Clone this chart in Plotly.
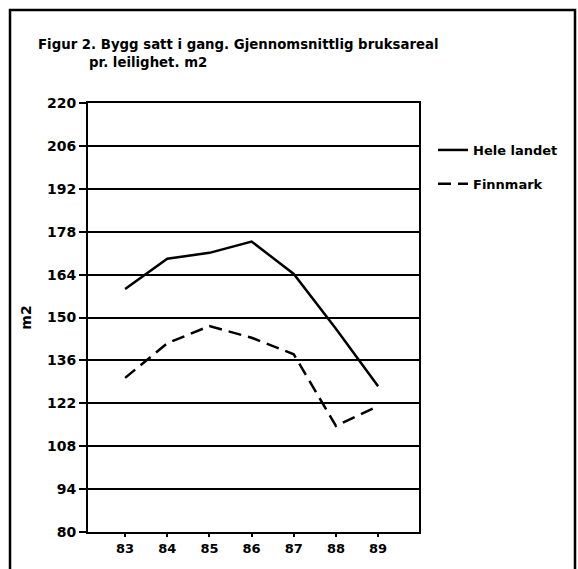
import plotly.graph_objects as go

# data
years = [83, 84, 85, 86, 87, 88, 89]
hele_landet = [159.3, 169.2, 171.1, 174.8, 164.2, 146.3, 127.6]
finnmark = [130.3, 141.6, 147.2, 143.4, 138.0, 114.6, 121.1]
y_ticks = [80, 94, 108, 122, 136, 150, 164, 178, 192, 206, 220]

FONT = "DejaVu Sans"
W, H = 578, 569
L, R, T, B = 88, 159, 103, 37
pw, ph = W - L - R, H - T - B


def px(x):
    return (x - L) / pw


def py(y):
    return (H - B - y) / ph


fig = go.Figure()

fig.add_trace(go.Scatter(
    x=years, y=hele_landet, mode="lines", name="Hele landet",
    line=dict(color="black", width=2.5), legendgroup="a"
))
fig.add_trace(go.Scatter(
    x=years, y=finnmark, mode="lines", name="Finnmark",
    line=dict(color="black", width=2.5, dash="13px,7px"), legendgroup="b"
))

fig.update_layout(
    width=W, height=H,
    margin=dict(l=L, r=R, t=T, b=B, autoexpand=False),
    paper_bgcolor="white", plot_bgcolor="white",
    font=dict(family=FONT, size=14, color="black"),
    showlegend=True,
    legend=dict(
        xref="container", yref="container",
        x=433 / W, y=1 - 135 / H, xanchor="left", yanchor="top",
        traceorder="grouped", tracegroupgap=14,
        font=dict(family=FONT, size=13, color="black", weight="bold"),
        bgcolor="rgba(0,0,0,0)", itemwidth=30
    ),
)

fig.update_xaxes(
    range=[82.12, 89.97], tickvals=years, ticktext=[str(y) for y in years],
    showgrid=False, zeroline=False, automargin=False,
    showline=True, linecolor="black", linewidth=2, mirror=True,
    ticks="outside", ticklen=3, tickwidth=2, tickcolor="black",
    tickfont=dict(family=FONT, size=13, weight="bold"),
)
fig.update_yaxes(
    range=[80, 220], tickvals=y_ticks, automargin=False,
    showgrid=True, gridcolor="black", gridwidth=1.5, zeroline=False,
    showline=True, linecolor="black", linewidth=2, mirror=True,
    ticks="outside", ticklen=7, tickwidth=2, tickcolor="black",
    tickfont=dict(family=FONT, size=14, weight="bold"),
    title=dict(text="m2", font=dict(family=FONT, size=14, weight="bold"), standoff=12),
)

# outer frame
fig.add_shape(type="rect", xref="paper", yref="paper",
              x0=px(10), x1=px(575), y0=py(585), y1=py(10),
              line=dict(color="black", width=2.5), layer="below")

fig.add_annotation(
    text="Figur 2. Bygg satt i gang. Gjennomsnittlig bruksareal",
    xref="paper", yref="paper", x=px(36), y=py(44),
    xanchor="left", yanchor="middle", showarrow=False,
    font=dict(family=FONT, size=13.3, weight="bold"),
)
fig.add_annotation(
    text="pr. leilighet. m2",
    xref="paper", yref="paper", x=px(87), y=py(62),
    xanchor="left", yanchor="middle", showarrow=False,
    font=dict(family=FONT, size=13.3, weight="bold"),
)

fig.write_html("out.html", config={"displayModeBar": False},
               post_script="document.body.style.margin='0';")
